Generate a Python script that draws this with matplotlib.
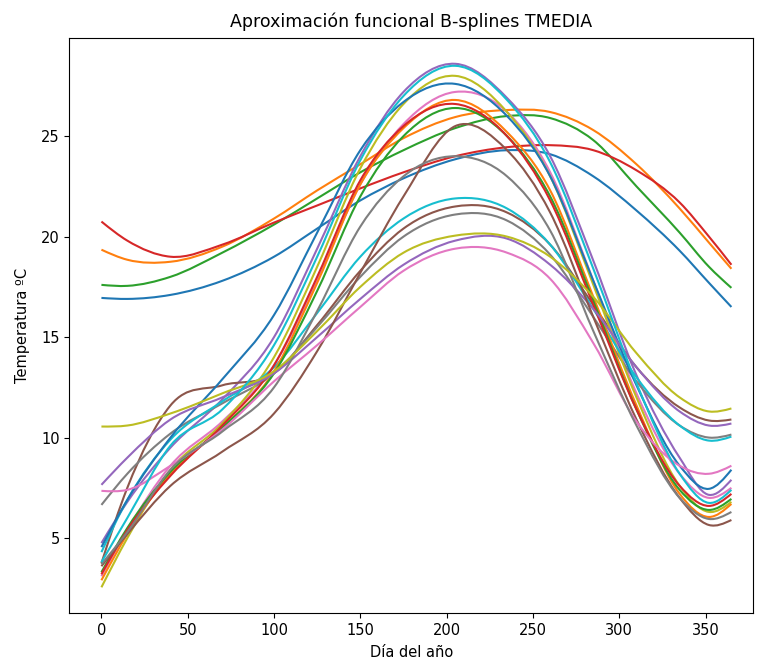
import numpy as np
import matplotlib
matplotlib.use("Agg")
import matplotlib.pyplot as plt
from matplotlib.path import Path
from matplotlib.patches import PathPatch

days = [0, 15, 40, 70, 100, 125, 150, 175, 205, 235, 260, 285, 310, 335, 352, 365]

# 20 stations, colours follow the default cycle (C0..C9, C0..C9)
s00 = [16.95, 16.9, 17.1, 17.8, 19.0, 20.4, 21.8, 22.9, 23.85, 24.3, 24.1, 23.0, 21.3, 19.3, 17.7, 16.5]
s01 = [19.35, 18.85, 18.75, 19.5, 20.9, 22.3, 23.6, 24.9, 25.95, 26.3, 26.2, 25.3, 23.6, 21.4, 19.7, 18.4]
s02 = [17.6, 17.55, 18.0, 19.2, 20.6, 21.9, 23.2, 24.3, 25.4, 26.0, 25.9, 24.8, 22.5, 20.2, 18.5, 17.45]
s03 = [20.75, 19.8, 19.0, 19.6, 20.7, 21.55, 22.4, 23.2, 24.0, 24.45, 24.55, 24.3, 23.3, 21.7, 20.0, 18.6]
s04 = [4.75, 6.8, 9.5, 11.9, 15.0, 19.4, 24.0, 27.2, 28.6, 26.9, 24.0, 18.8, 13.1, 9.0, 7.15, 7.9]
s05 = [3.75, 7.5, 11.6, 12.6, 13.2, 15.6, 18.3, 20.4, 21.5, 21.2, 19.6, 16.6, 13.5, 11.5, 10.85, 10.9]
s06 = [3.1, 5.4, 8.6, 10.8, 13.6, 17.8, 22.6, 25.6, 27.2, 26.2, 23.2, 17.8, 12.2, 8.2, 7.0, 7.5]
s07 = [6.65, 8.2, 10.2, 11.7, 13.2, 15.5, 18.0, 20.0, 21.1, 20.8, 19.1, 16.0, 12.8, 10.6, 10.0, 10.15]
s08 = [2.55, 5.0, 8.4, 10.7, 14.0, 18.5, 23.4, 26.6, 28.0, 26.2, 23.0, 17.6, 12.0, 7.6, 6.3, 6.8]
s09 = [4.3, 6.9, 9.9, 11.8, 13.5, 16.2, 19.0, 20.9, 21.9, 21.4, 19.6, 16.4, 13.0, 10.6, 9.85, 10.05]
s10 = [4.55, 6.9, 10.0, 12.9, 16.1, 20.2, 24.3, 26.7, 27.6, 26.0, 23.0, 17.8, 12.6, 8.6, 7.45, 8.4]
s11 = [2.9, 5.2, 8.2, 10.5, 13.3, 17.7, 22.6, 25.4, 26.8, 25.2, 22.3, 17.0, 11.6, 7.2, 6.05, 6.7]
s12 = [3.3, 5.5, 8.3, 10.5, 13.2, 17.3, 22.0, 25.0, 26.4, 25.0, 22.0, 16.8, 11.4, 7.4, 6.4, 6.95]
s13 = [3.2, 5.4, 8.1, 10.6, 13.6, 18.0, 22.8, 25.5, 26.6, 25.0, 21.8, 16.6, 11.4, 7.6, 6.6, 7.2]
s14 = [7.65, 9.0, 10.9, 12.0, 13.2, 15.0, 16.9, 18.6, 19.8, 19.9, 18.6, 16.4, 13.5, 11.3, 10.6, 10.7]
s15 = [3.6, 5.2, 7.6, 9.3, 11.2, 14.3, 18.2, 22.0, 25.5, 24.3, 21.2, 16.0, 10.9, 7.0, 5.65, 5.9]
s16 = [7.35, 7.4, 8.6, 10.4, 12.8, 14.6, 16.5, 18.3, 19.4, 19.2, 17.9, 14.7, 10.8, 8.6, 8.2, 8.6]
s17 = [3.7, 5.3, 8.4, 10.3, 12.5, 16.3, 20.5, 23.0, 24.0, 23.0, 20.3, 15.3, 10.6, 7.0, 5.95, 6.3]
s18 = [10.55, 10.6, 11.2, 12.2, 13.3, 15.3, 17.5, 19.2, 20.05, 20.0, 19.0, 17.0, 14.2, 12.0, 11.3, 11.45]
s19 = [3.8, 6.0, 9.6, 11.4, 14.6, 19.0, 23.8, 27.0, 28.5, 26.8, 23.7, 18.4, 12.7, 8.2, 6.75, 7.4]

series = [s00, s01, s02, s03, s04, s05, s06, s07, s08, s09,
          s10, s11, s12, s13, s14, s15, s16, s17, s18, s19]


def smooth_path(x, y):
    """Cubic Hermite curve through the points, as Bezier segments."""
    x = np.asarray(x, float)
    y = np.asarray(y, float)
    n = len(x)
    h = np.diff(x)
    d = np.diff(y) / h
    m = np.empty(n)
    m[1:-1] = (d[:-1] * h[1:] + d[1:] * h[:-1]) / (h[:-1] + h[1:])
    m[0] = 1.5 * d[0] - 0.5 * m[1]
    m[-1] = 1.5 * d[-1] - 0.5 * m[-2]
    verts = [(x[0], y[0])]
    codes = [Path.MOVETO]
    for i in range(n - 1):
        verts.append((x[i] + h[i] / 3, y[i] + m[i] * h[i] / 3))
        verts.append((x[i + 1] - h[i] / 3, y[i + 1] - m[i + 1] * h[i] / 3))
        verts.append((x[i + 1], y[i + 1]))
        codes += [Path.CURVE4] * 3
    return Path(verts, codes)


fig = plt.figure(figsize=(7.57, 6.68), dpi=100)
ax = fig.add_axes([0.0918, 0.0823, 0.9029, 0.8607])
colors = plt.rcParams['axes.prop_cycle'].by_key()['color']
for i, s in enumerate(series):
    ax.add_patch(PathPatch(smooth_path(days, s), fill=False,
                           edgecolor=colors[i % 10], lw=1.5))

ax.set_xlim(-18.5, 377.5)
ax.set_ylim(1.27, 29.88)
ax.set_xticks([0, 50, 100, 150, 200, 250, 300, 350])
ax.set_yticks([5, 10, 15, 20, 25])
ax.tick_params(labelsize=10.5)
ax.set_title("Aproximación funcional B-splines TMEDIA", fontsize=12.5, pad=8)
ax.set_xlabel("Día del año", fontsize=10.5, labelpad=5)
ax.set_ylabel("Temperatura ºC", fontsize=10.5, labelpad=8)
fig.savefig("out.png", dpi=100)
